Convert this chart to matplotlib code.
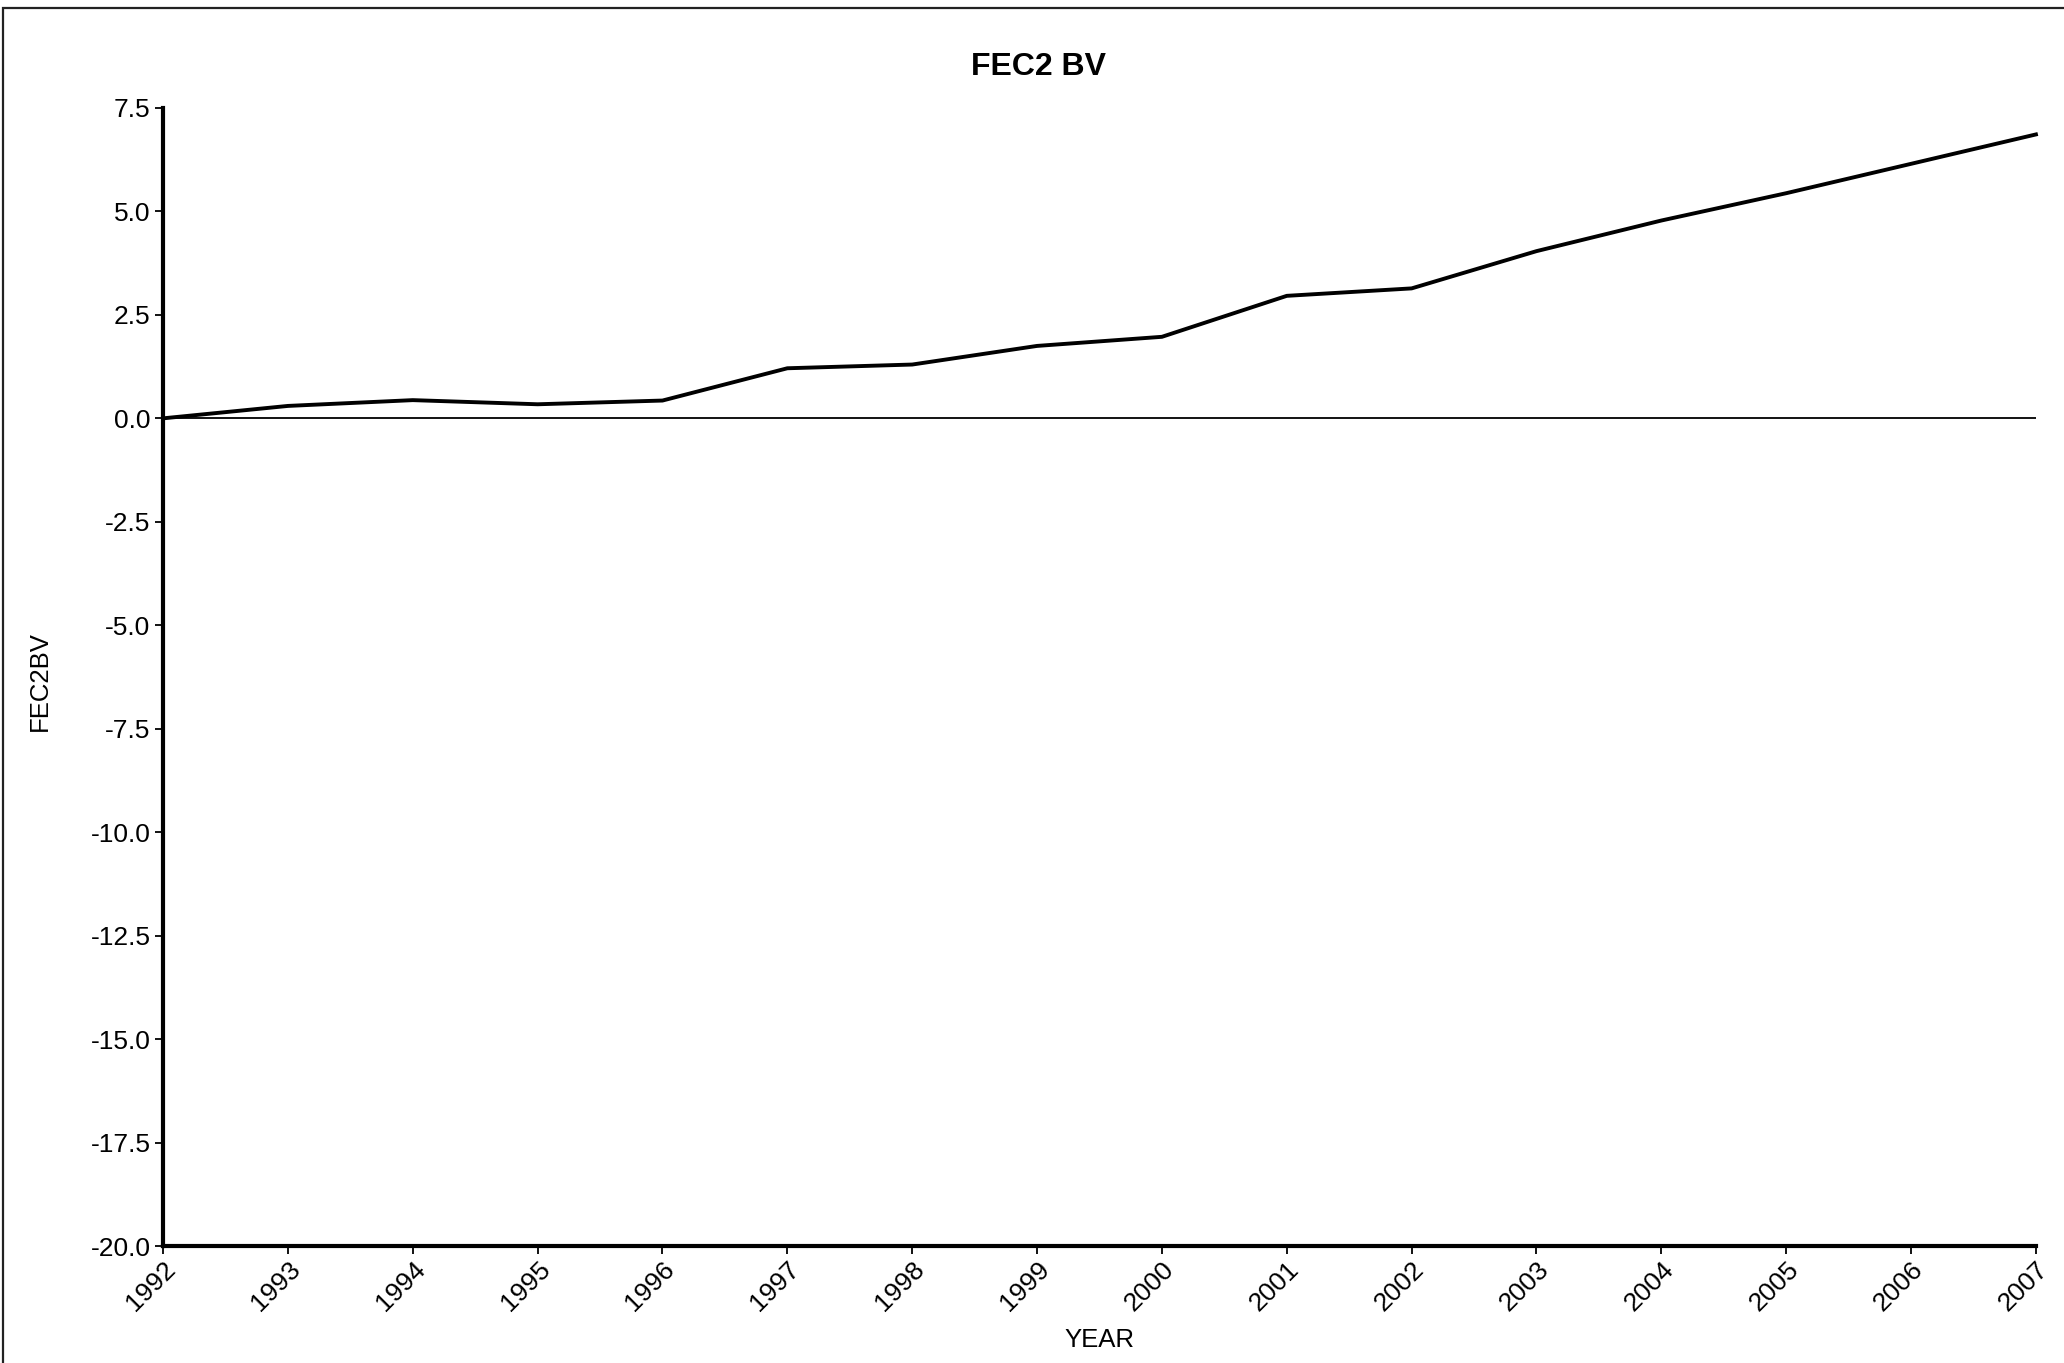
import matplotlib
matplotlib.use("Agg")
import matplotlib.pyplot as plt
from matplotlib.patches import Rectangle

plt.rcParams['font.family'] = ['Liberation Sans', 'DejaVu Sans']

years = [1992, 1993, 1994, 1995, 1996, 1997, 1998, 1999,
         2000, 2001, 2002, 2003, 2004, 2005, 2006, 2007]
fec2bv = [0.0, 0.30, 0.44, 0.34, 0.43, 1.21, 1.30, 1.75,
          1.97, 2.96, 3.14, 4.04, 4.78, 5.44, 6.15, 6.86]
y_ticks = [7.5, 5.0, 2.5, 0.0, -2.5, -5.0, -7.5, -10.0,
           -12.5, -15.0, -17.5, -20.0]

fig = plt.figure(figsize=(20.64, 13.63), dpi=100)
ax = fig.add_axes([0.0790, 0.0858, 0.9074, 0.835])

# frame round the page (cut off at right and bottom)
fig.patches.append(Rectangle((0.0015, -0.05), 1.2, 1.044, transform=fig.transFigure,
                             fill=False, edgecolor='#222222', linewidth=1.6))

ax.axhline(0, color='black', linewidth=1.3, zorder=1)
ax.plot(years, fec2bv, color='black', linewidth=2.8, clip_on=False, zorder=3)

ax.set_xlim(1992, 2007)
ax.set_ylim(-20, 7.5)
ax.set_xticks(years)
ax.set_xticklabels([str(y) for y in years], rotation=45, ha='right',
                   rotation_mode='anchor')
ax.set_yticks(y_ticks)
ax.set_yticklabels(['%.1f' % v for v in y_ticks])

for side in ['top', 'right']:
    ax.spines[side].set_visible(False)
for side in ['left', 'bottom']:
    ax.spines[side].set_linewidth(3)
ax.tick_params(axis='both', direction='out', length=6, width=1.3,
               labelsize=19, pad=3, color='black')
ax.tick_params(axis='x', pad=2)

fig.text(0.503, 0.951, 'FEC2 BV', ha='center', va='center',
         fontsize=23, fontweight='bold')
fig.text(0.0195, 0.5, 'FEC2BV', ha='center', va='center', rotation=90, fontsize=18.5)
fig.text(0.5325, 0.017, 'YEAR', ha='center', va='center', fontsize=18.5)

fig.savefig('out.png', dpi=100)
